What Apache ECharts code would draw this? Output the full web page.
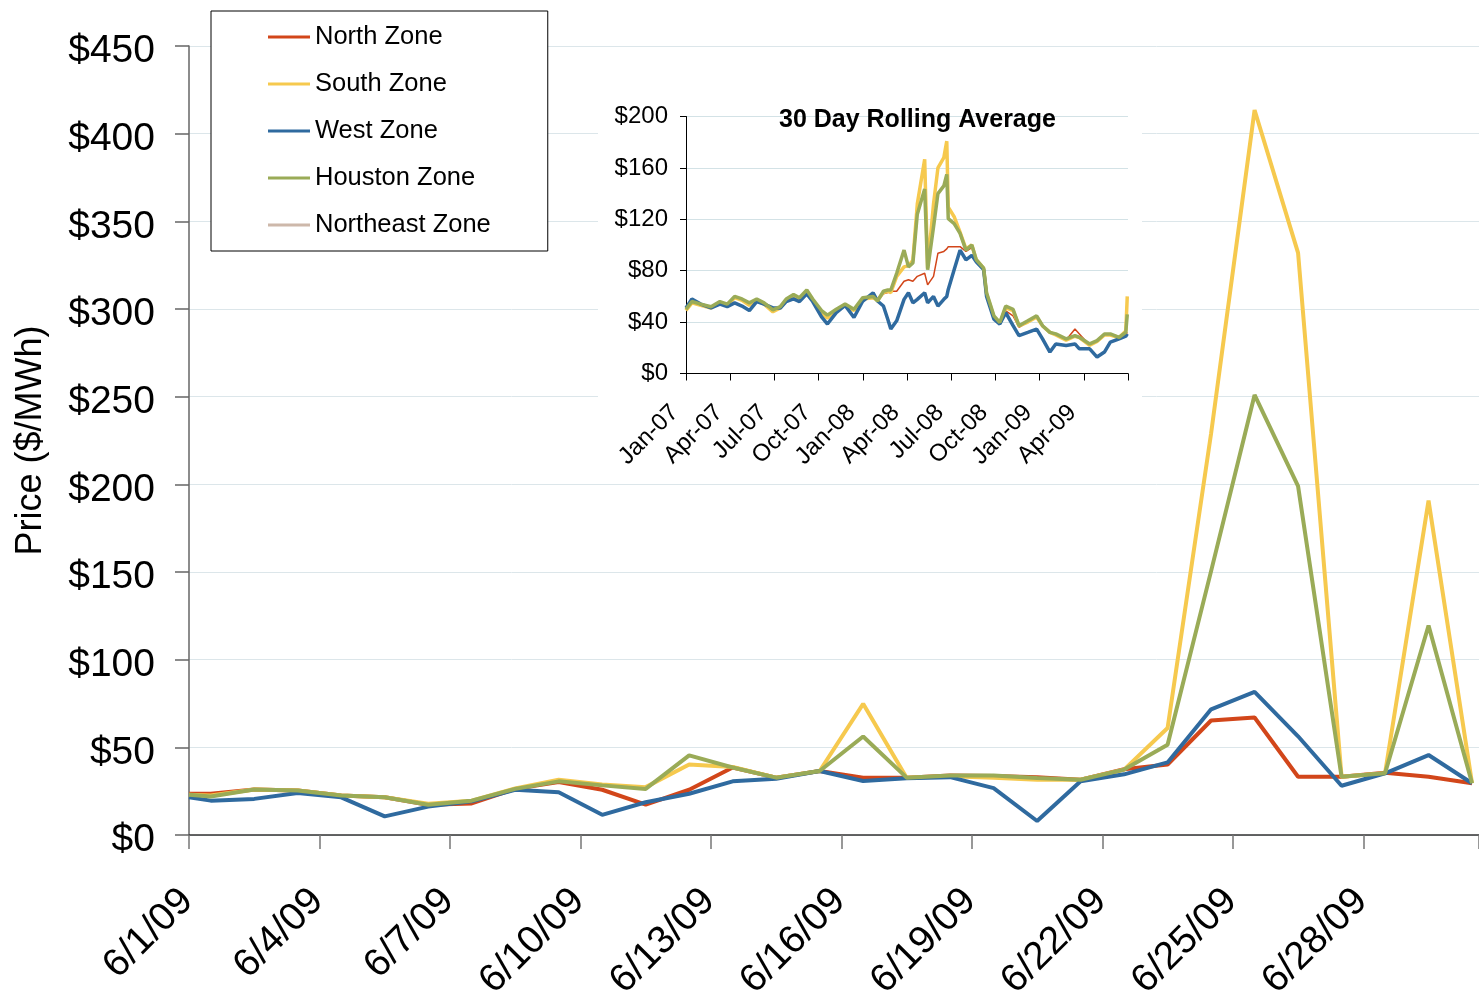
<!DOCTYPE html>
<html>
<head>
<meta charset="utf-8">
<title>Zone prices, June 2009</title>
<script src="https://cdn.jsdelivr.net/npm/echarts@6.0.0/dist/echarts.min.js"></script>
<style>
  html, body { margin: 0; padding: 0; background: #fff; }
  #chart { width: 1479px; height: 999px; }
</style>
</head>
<body>
<div id="chart"></div>
<script>
// main chart: daily prices, June 2009 (x = days after 6/1/09)
var dayPos = [0, 0.5, 1.5, 2.5, 3.5, 4.5, 5.5, 6.5, 7.5, 8.5, 9.5, 10.5, 11.5, 12.5, 13.5, 14.5,
  15.5, 16.5, 17.5, 18.5, 19.5, 20.5, 21.5, 22.5, 23.5, 24.5, 25.5, 26.5, 27.5, 28.5, 29.5];
var dayLabels = ['6/1/09', '6/4/09', '6/7/09', '6/10/09', '6/13/09', '6/16/09', '6/19/09', '6/22/09', '6/25/09', '6/28/09'];

var northZone = [23.5, 23.5, 26, 25.4, 22.5, 21.5, 17.3, 18, 26.3, 30.2, 25.8, 17.3, 25.8, 38.5, 32.7, 36.5,
  32.7, 32.7, 34, 33.7, 33, 31.5, 37.5, 40.2, 65.3, 67, 33.2, 33.2, 35.5, 33.2, 29.5];
var southZone = [23, 22.5, 26, 25.4, 22.5, 21.5, 17.8, 19.6, 26.5, 31.5, 28.8, 27.3, 40.2, 38.8, 32.7, 36.5,
  74.8, 32.7, 33.5, 32.7, 31.5, 31.5, 37.3, 61, 229, 413.5, 332, 33.2, 35.2, 190.7, 29.5];
var westZone = [21.5, 19.6, 20.6, 24, 21.5, 10.6, 16.2, 19.2, 25.8, 24.4, 11.5, 18.7, 23.5, 30.6, 32.1, 36.5,
  30.8, 32.4, 33, 26.7, 8, 30.6, 34.6, 41.4, 71.7, 81.6, 56.3, 28.1, 35.2, 45.6, 29.5];
var houstonZone = [23, 22, 26, 25.4, 22.5, 21.5, 17.3, 19.6, 26.3, 30.6, 28.3, 26.3, 45.4, 38.5, 32.7, 36.5,
  56.2, 32.7, 34, 34, 32.5, 31.5, 37.3, 51.5, 150.5, 251, 199, 33.2, 35.2, 119.5, 29.5];
var northeastZone = [];

// inset: 30 day rolling average (x = months after Jan 2007)
var monthLabels = ['Jan-07', 'Apr-07', 'Jul-07', 'Oct-07', 'Jan-08', 'Apr-08', 'Jul-08', 'Oct-08', 'Jan-09', 'Apr-09'];
var rollMonths = [0, 0.4, 1, 1.7, 2.3, 2.8, 3.3, 3.8, 4.3, 4.8, 5.3, 5.9, 6.4, 6.8, 7.3, 7.7, 8.2, 8.6, 9.2, 9.6,
  10.2, 10.8, 11.4, 12, 12.7, 13, 13.4, 13.7, 13.9, 14.3, 14.8, 15.1, 15.4, 15.7, 16.2, 16.4, 16.8, 17.1, 17.5, 17.7,
  17.8, 18.2, 18.6, 19, 19.4, 19.7, 20.2, 20.4, 20.9, 21.3, 21.7, 22.2, 22.6, 23.2, 23.8, 24.2, 24.7, 25.1, 25.8,
  26.4, 26.7, 27.4, 27.9, 28.4, 28.8, 29.4, 29.85, 29.95];
var rollNorth = [50, 55, 53, 51, 55, 53, 59, 57, 53, 57, 54, 49, 51, 57, 60, 58, 64, 57, 47, 43.6,
  49, 53, 49, 58, 59, 57, 62, 63, 64, 64, 71.8, 73, 71.8, 75.6, 78, 69, 75.6, 93.6, 95, 97,
  98.7, 98.7, 98.7, 95, 98, 88, 81, 62, 44, 39, 48.7, 44.9, 36, 40, 44, 37, 32, 30, 26,
  34.6, 30.8, 22, 25, 30, 30, 28, 30, 32];
var rollSouth = [49, 55, 53, 51, 55, 53, 59, 57, 53, 57, 54, 48, 51, 57, 60, 58, 64, 57, 47, 43,
  49, 53, 49, 58, 59, 57, 63, 64, 63, 75.6, 83, 84, 88, 132, 166.7, 82, 132, 160, 168, 180.8,
  129.5, 122, 110, 97, 100, 88.5, 82, 62, 44, 39, 51, 49, 37, 40, 44, 37, 32, 30, 26,
  29, 28, 22, 25, 30, 30, 28, 33, 60];
var rollWest = [51, 58, 54, 51, 54, 52, 55, 52.5, 49, 56, 54, 51, 51, 56, 58, 56, 62, 56, 44, 38.5,
  47.4, 53, 43.6, 56.4, 62.8, 56.4, 52.5, 42, 34.6, 41, 57.7, 62.8, 55, 57.7, 62.8, 55, 60, 52.5, 57.7, 60,
  65.4, 80.8, 96, 88.5, 92, 87, 80.8, 60, 42.3, 38.5, 47.4, 37.2, 29.5, 32, 34.6, 27, 16.7, 23, 21.8,
  23, 19.2, 19.2, 12.8, 16.7, 24.4, 27, 29, 30.8];
var rollHouston = [50, 56, 54, 52, 56, 54, 60, 58, 55, 58, 55, 49.5, 52, 58, 61.5, 59, 65, 58, 49, 45.4,
  50, 54, 50, 59, 60, 56.4, 64, 65, 65, 78, 96, 83, 86, 124, 143.6, 80.8, 114, 140, 146, 155,
  120.5, 116.7, 109, 96, 100, 88.5, 82, 62.8, 44.9, 39.7, 52.5, 50, 37.2, 41, 44.9, 37.2, 32, 30.8, 27,
  29.5, 28.2, 23, 25.6, 30.8, 30.8, 28.2, 32, 46];

var colors = {
  north: '#d2461a',
  south: '#f6c94e',
  west: '#2f6a9f',
  houston: '#9aab57',
  northeast: '#cdb8aa'
};
var font = 'Liberation Sans, Arial, sans-serif';

function pairs(xs, ys) {
  return ys.map(function (v, i) { return [xs[i], v]; });
}

function mainSeries(name, vals, color, width) {
  return {
    name: name,
    type: 'line',
    xAxisIndex: 0,
    yAxisIndex: 0,
    data: pairs(dayPos, vals),
    symbol: 'none',
    color: color,
    lineStyle: { color: color, width: width },
    z: 3
  };
}

function insetSeries(name, vals, color, width) {
  return {
    name: name,
    type: 'line',
    xAxisIndex: 1,
    yAxisIndex: 1,
    data: pairs(rollMonths, vals),
    symbol: 'none',
    color: color,
    lineStyle: { color: color, width: width },
    z: 6
  };
}

var chart = echarts.init(document.getElementById('chart'));

var option = {
  animation: false,
  backgroundColor: '#fff',
  textStyle: { fontFamily: font },
  title: {
    text: '30 Day Rolling Average',
    left: 774,
    top: 103,
    textStyle: { fontFamily: font, fontSize: 25, fontWeight: 'bold', color: '#000' },
    z: 7
  },
  legend: {
    orient: 'vertical',
    left: 211,
    top: 11,
    padding: [12, 57, 12, 57],
    backgroundColor: '#fff',
    borderColor: '#000',
    borderWidth: 1,
    borderRadius: 0,
    icon: 'rect',
    itemWidth: 42,
    itemHeight: 3,
    itemGap: 19,
    textStyle: { fontFamily: font, fontSize: 25.5, color: '#000', lineHeight: 28 },
    data: ['North Zone', 'South Zone', 'West Zone', 'Houston Zone', 'Northeast Zone'],
    z: 10
  },
  graphic: [{
    type: 'rect',
    shape: { x: 598, y: 95, width: 544, height: 385 },
    style: { fill: '#fff' },
    z: 1
  }],
  grid: [
    { left: 189, right: 0, top: 46, bottom: 164, outerBoundsMode: 'none' },
    { left: 686, right: 351, top: 116.5, bottom: 625.5, outerBoundsMode: 'none' }
  ],
  xAxis: [{
    type: 'value',
    gridIndex: 0,
    min: 0,
    max: 29.66,
    interval: 3,
    axisLine: { show: true, lineStyle: { color: '#333', width: 1.5 } },
    axisTick: { show: true, length: 14, lineStyle: { color: '#777', width: 1.5 } },
    splitLine: { show: false },
    axisLabel: {
      rotate: 45,
      margin: 58,
      padding: [0, 3, 0, 0],
      fontSize: 39,
      color: '#000',
      fontFamily: font,
      formatter: function (v) { return dayLabels[Math.round(v / 3)] || ''; }
    }
  }, {
    type: 'value',
    gridIndex: 1,
    min: 0,
    max: 30,
    interval: 3,
    z: 5,
    axisLine: { show: true, lineStyle: { color: '#000', width: 1 } },
    axisTick: { show: true, length: 7, lineStyle: { color: '#000' } },
    splitLine: { show: false },
    axisLabel: {
      rotate: 45,
      margin: 24,
      padding: [0, 16, 0, 0],
      fontSize: 24,
      color: '#000',
      fontFamily: font,
      formatter: function (v) { return monthLabels[Math.round(v / 3)] || ''; }
    }
  }],
  yAxis: [{
    type: 'value',
    gridIndex: 0,
    min: 0,
    max: 450,
    interval: 50,
    name: 'Price ($/MWh)',
    nameLocation: 'middle',
    nameGap: 140,
    nameTextStyle: { fontFamily: font, fontSize: 36, color: '#000' },
    axisLine: { show: true, lineStyle: { color: '#666', width: 1.5 } },
    axisTick: { show: true, length: 14, lineStyle: { color: '#666', width: 1.5 } },
    splitLine: { show: true, lineStyle: { color: '#dce6ea', width: 1 } },
    axisLabel: {
      margin: 34,
      color: '#000',
      fontFamily: font,
      formatter: function (v) { return '{p|$' + v + '}'; },
      rich: {
        p: { fontSize: 39, fontFamily: font, color: '#000', padding: [11, 0, 0, 0] }
      }
    }
  }, {
    type: 'value',
    gridIndex: 1,
    min: 0,
    max: 200,
    interval: 40,
    z: 5,
    axisLine: { show: true, lineStyle: { color: '#000', width: 1 } },
    axisTick: { show: true, length: 6, lineStyle: { color: '#000' } },
    splitLine: { show: true, lineStyle: { color: '#d3e2e6', width: 1 } },
    axisLabel: {
      margin: 18,
      fontSize: 24,
      color: '#000',
      fontFamily: font,
      formatter: function (v) { return '$' + v; }
    }
  }],
  series: [
    mainSeries('North Zone', northZone, colors.north, 4),
    mainSeries('South Zone', southZone, colors.south, 4),
    mainSeries('West Zone', westZone, colors.west, 4),
    mainSeries('Houston Zone', houstonZone, colors.houston, 4),
    mainSeries('Northeast Zone', northeastZone, colors.northeast, 1.5),
    insetSeries('North Zone', rollNorth, colors.north, 1.5),
    insetSeries('South Zone', rollSouth, colors.south, 3.5),
    insetSeries('West Zone', rollWest, colors.west, 3.5),
    insetSeries('Houston Zone', rollHouston, colors.houston, 3.5)
  ]
};

chart.setOption(option);
</script>
</body>
</html>
